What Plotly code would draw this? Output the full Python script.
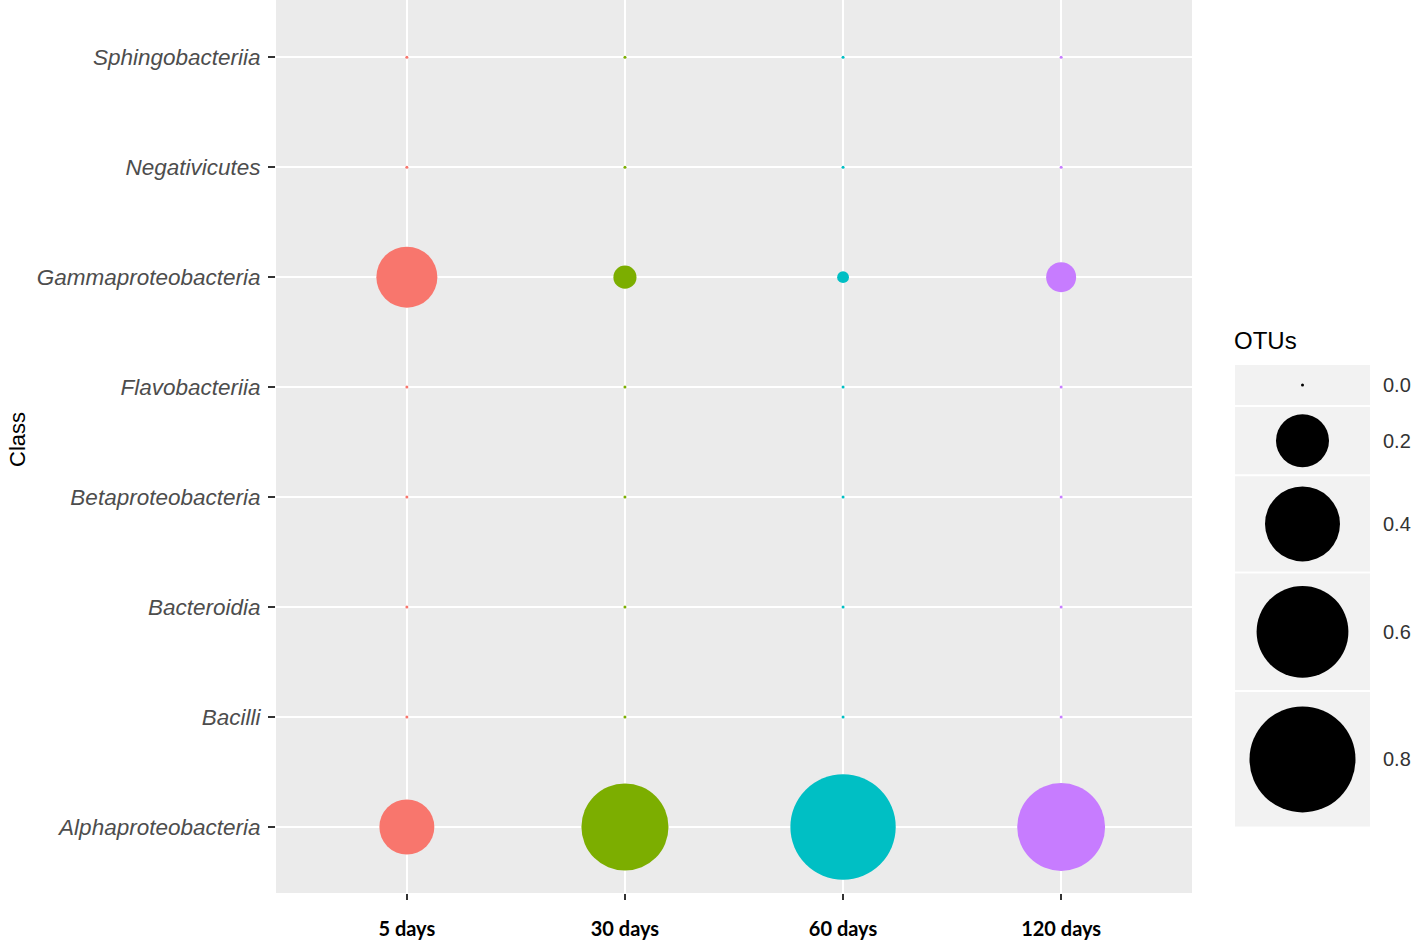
import math
import plotly.graph_objects as go

W, H = 1418, 947

# data
days = ["5 days", "30 days", "60 days", "120 days"]
classes = ["Alphaproteobacteria", "Bacilli", "Bacteroidia", "Betaproteobacteria",
           "Flavobacteriia", "Gammaproteobacteria", "Negativicutes", "Sphingobacteriia"]
otus_5 = [0.215, 0, 0, 0, 0, 0.265, 0, 0]
otus_30 = [0.54, 0, 0, 0, 0, 0.038, 0, 0]
otus_60 = [0.79, 0, 0, 0, 0, 0.010, 0, 0]
otus_120 = [0.55, 0, 0, 0, 0, 0.064, 0, 0]
colours = ["#F8766D", "#7CAE00", "#00BFC4", "#C77CFF"]

legend_vals = [0.0, 0.2, 0.4, 0.6, 0.8]
legend_text = ["0.0", "0.2", "0.4", "0.6", "0.8"]

K = 106 / math.sqrt(0.8)   # px diameter per sqrt(OTU)


def diam(v):
    return max(3.0, K * math.sqrt(v))


def fx(px):
    return px / W


def fy(px):
    return 1 - px / H


# panel geometry in screen px
px_l, px_r, px_b = 276, 1192, 893

fig = go.Figure()

for name, vals, col in zip(days, [otus_5, otus_30, otus_60, otus_120], colours):
    fig.add_trace(go.Scatter(
        x=[name] * len(classes), y=classes, mode="markers",
        marker=dict(size=[diam(v) for v in vals], color=col, line=dict(width=0), opacity=1),
        showlegend=False, xaxis="x", yaxis="y"))

# size legend as its own little subplot
gap = 2
key_h = [max(40, 1.27 * diam(v)) for v in legend_vals]
centres = []
pos = 0
for h in key_h:
    centres.append(pos + h / 2)
    pos += h + gap
total = pos - gap

leg_top = 365
leg_l, leg_r = 1235, 1370
fig.add_trace(go.Scatter(
    x=[0.5] * len(legend_vals), y=centres, mode="markers",
    marker=dict(size=[diam(v) for v in legend_vals], color="black", line=dict(width=0), opacity=1),
    showlegend=False, xaxis="x2", yaxis="y2"))

shapes = [dict(type="rect", xref="x domain", yref="y domain", x0=0, x1=1, y0=0, y1=1,
               fillcolor="#EBEBEB", line=dict(width=0), layer="below")]
pos = 0
for h in key_h:
    shapes.append(dict(type="rect", xref="x2 domain", yref="y2", x0=0, x1=1, y0=pos, y1=pos + h,
                       fillcolor="#F2F2F2", line=dict(width=0), layer="below"))
    pos += h + gap

fig.update_layout(
    width=W, height=H,
    margin=dict(l=0, r=0, t=0, b=0),
    paper_bgcolor="white", plot_bgcolor="white",
    shapes=shapes,
    xaxis=dict(
        domain=[fx(px_l), fx(px_r)], type="category", categoryorder="array", categoryarray=days,
        range=[-0.6, 3.6], showgrid=True, gridcolor="white", gridwidth=2, zeroline=False,
        ticks="outside", ticklen=6, tickwidth=1.5, tickcolor="#333333", ticklabelstandoff=12,
        tickfont=dict(family="Lato", size=20, color="black", weight="bold"),
        showline=False, anchor="y", automargin=False),
    yaxis=dict(
        domain=[fy(px_b), 1], type="category", categoryorder="array",
        categoryarray=classes, range=[-0.6, 7.52], showgrid=True,
        gridcolor="white", gridwidth=2, zeroline=False, ticks="outside", ticklen=7,
        tickwidth=1.5, tickcolor="#333333", ticklabelstandoff=3,
        tickfont=dict(family="Liberation Sans", size=22.5, color="#4D4D4D", style="italic"),
        showline=False, anchor="x", automargin=False),
    xaxis2=dict(domain=[fx(leg_l), fx(leg_r)], range=[0, 1], visible=False, anchor="y2"),
    yaxis2=dict(
        domain=[fy(leg_top + total), fy(leg_top)], range=[total, 0],
        anchor="x2", side="right", showgrid=False, zeroline=False, showline=False,
        tickmode="array", tickvals=centres, ticktext=legend_text, ticks="",
        ticklabelstandoff=12,
        tickfont=dict(family="Liberation Sans", size=20, color="#333333"), automargin=False),
    annotations=[
        dict(text="Class", xref="paper", yref="paper", x=fx(17), y=fy(440), textangle=-90,
             showarrow=False, font=dict(family="Liberation Sans", size=22, color="black"),
             xanchor="center", yanchor="middle"),
        dict(text="OTUs", xref="paper", yref="paper", x=fx(1232), y=fy(340),
             showarrow=False, font=dict(family="Liberation Sans", size=24, color="black"),
             xanchor="left", yanchor="middle"),
    ],
)

# drop the page's default 8px body margin so the figure sits at the corner
fig.write_html("out.html", config={"displayModeBar": False},
               post_script="document.body.style.margin='0';")
